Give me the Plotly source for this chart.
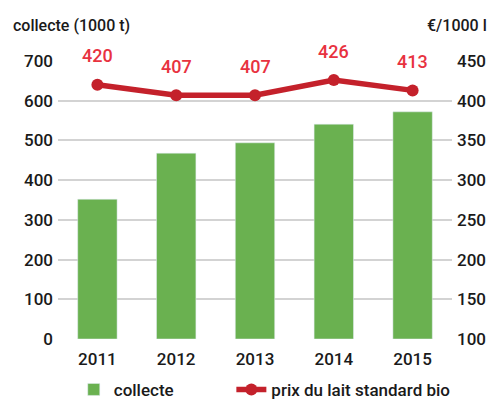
import plotly.graph_objects as go

years = [2011, 2012, 2013, 2014, 2015]
collecte = [352, 468, 494, 541, 572]
prix = [420, 407, 407, 426, 413]

FONT = "Roboto, sans-serif"
fig = go.Figure()
fig.add_trace(go.Bar(x=years, y=collecte, name="collecte", marker_color="#6ab150",
                     width=0.5, yaxis="y", legend="legend"))
fig.add_trace(go.Scatter(x=years, y=prix, name="prix du lait standard bio", yaxis="y2",
                         mode="lines+markers", line=dict(color="#c4212b", width=5.5),
                         marker=dict(size=12, color="#c4212b"), legend="legend2"))
for yr, p in zip(years, prix):
    fig.add_annotation(x=yr, y=p, xref="x", yref="y2", text=str(p), showarrow=False, yshift=29,
                       font=dict(family=FONT, size=18, color="#e8323f", weight=500))

leg = dict(orientation="h", yanchor="middle", y=-0.183, xanchor="left",
           itemwidth=30, bgcolor="rgba(0,0,0,0)")
fig.update_layout(
    width=491, height=401,
    margin=dict(l=58, r=39, t=61, b=62, autoexpand=False),
    plot_bgcolor="white", paper_bgcolor="white",
    font=dict(family=FONT, size=17, color="#1a1a1a", weight=500),
    xaxis=dict(range=[2010.5, 2015.5], tickmode="array", tickvals=years,
               ticktext=[str(y) for y in years], showgrid=False, ticks="", zeroline=False,
               ticklabelstandoff=8, automargin=False),
    yaxis=dict(range=[0, 700], dtick=100, gridcolor="#d3d3d3", gridwidth=1.5,
               zeroline=False, ticks="", ticklabelstandoff=4, automargin=False),
    yaxis2=dict(range=[100, 450], dtick=50, overlaying="y", side="right",
                showgrid=False, zeroline=False, ticks="", ticklabelstandoff=4, automargin=False),
    showlegend=True,
    legend=dict(leg, x=0.04),
    legend2=dict(leg, x=0.44),
)
fig.add_annotation(text="collecte (1000 t)", xref="paper", yref="paper", x=0, y=1.129,
                   xanchor="left", yanchor="middle", xshift=-47, showarrow=False,
                   font=dict(size=16))
fig.add_annotation(text="€/1000 l", xref="paper", yref="paper", x=1, y=1.129,
                   xanchor="right", yanchor="middle", xshift=37, showarrow=False,
                   font=dict(size=16))
fig.write_html("out.html", config={"displayModeBar": False},
               post_script="document.body.style.margin='0';")
